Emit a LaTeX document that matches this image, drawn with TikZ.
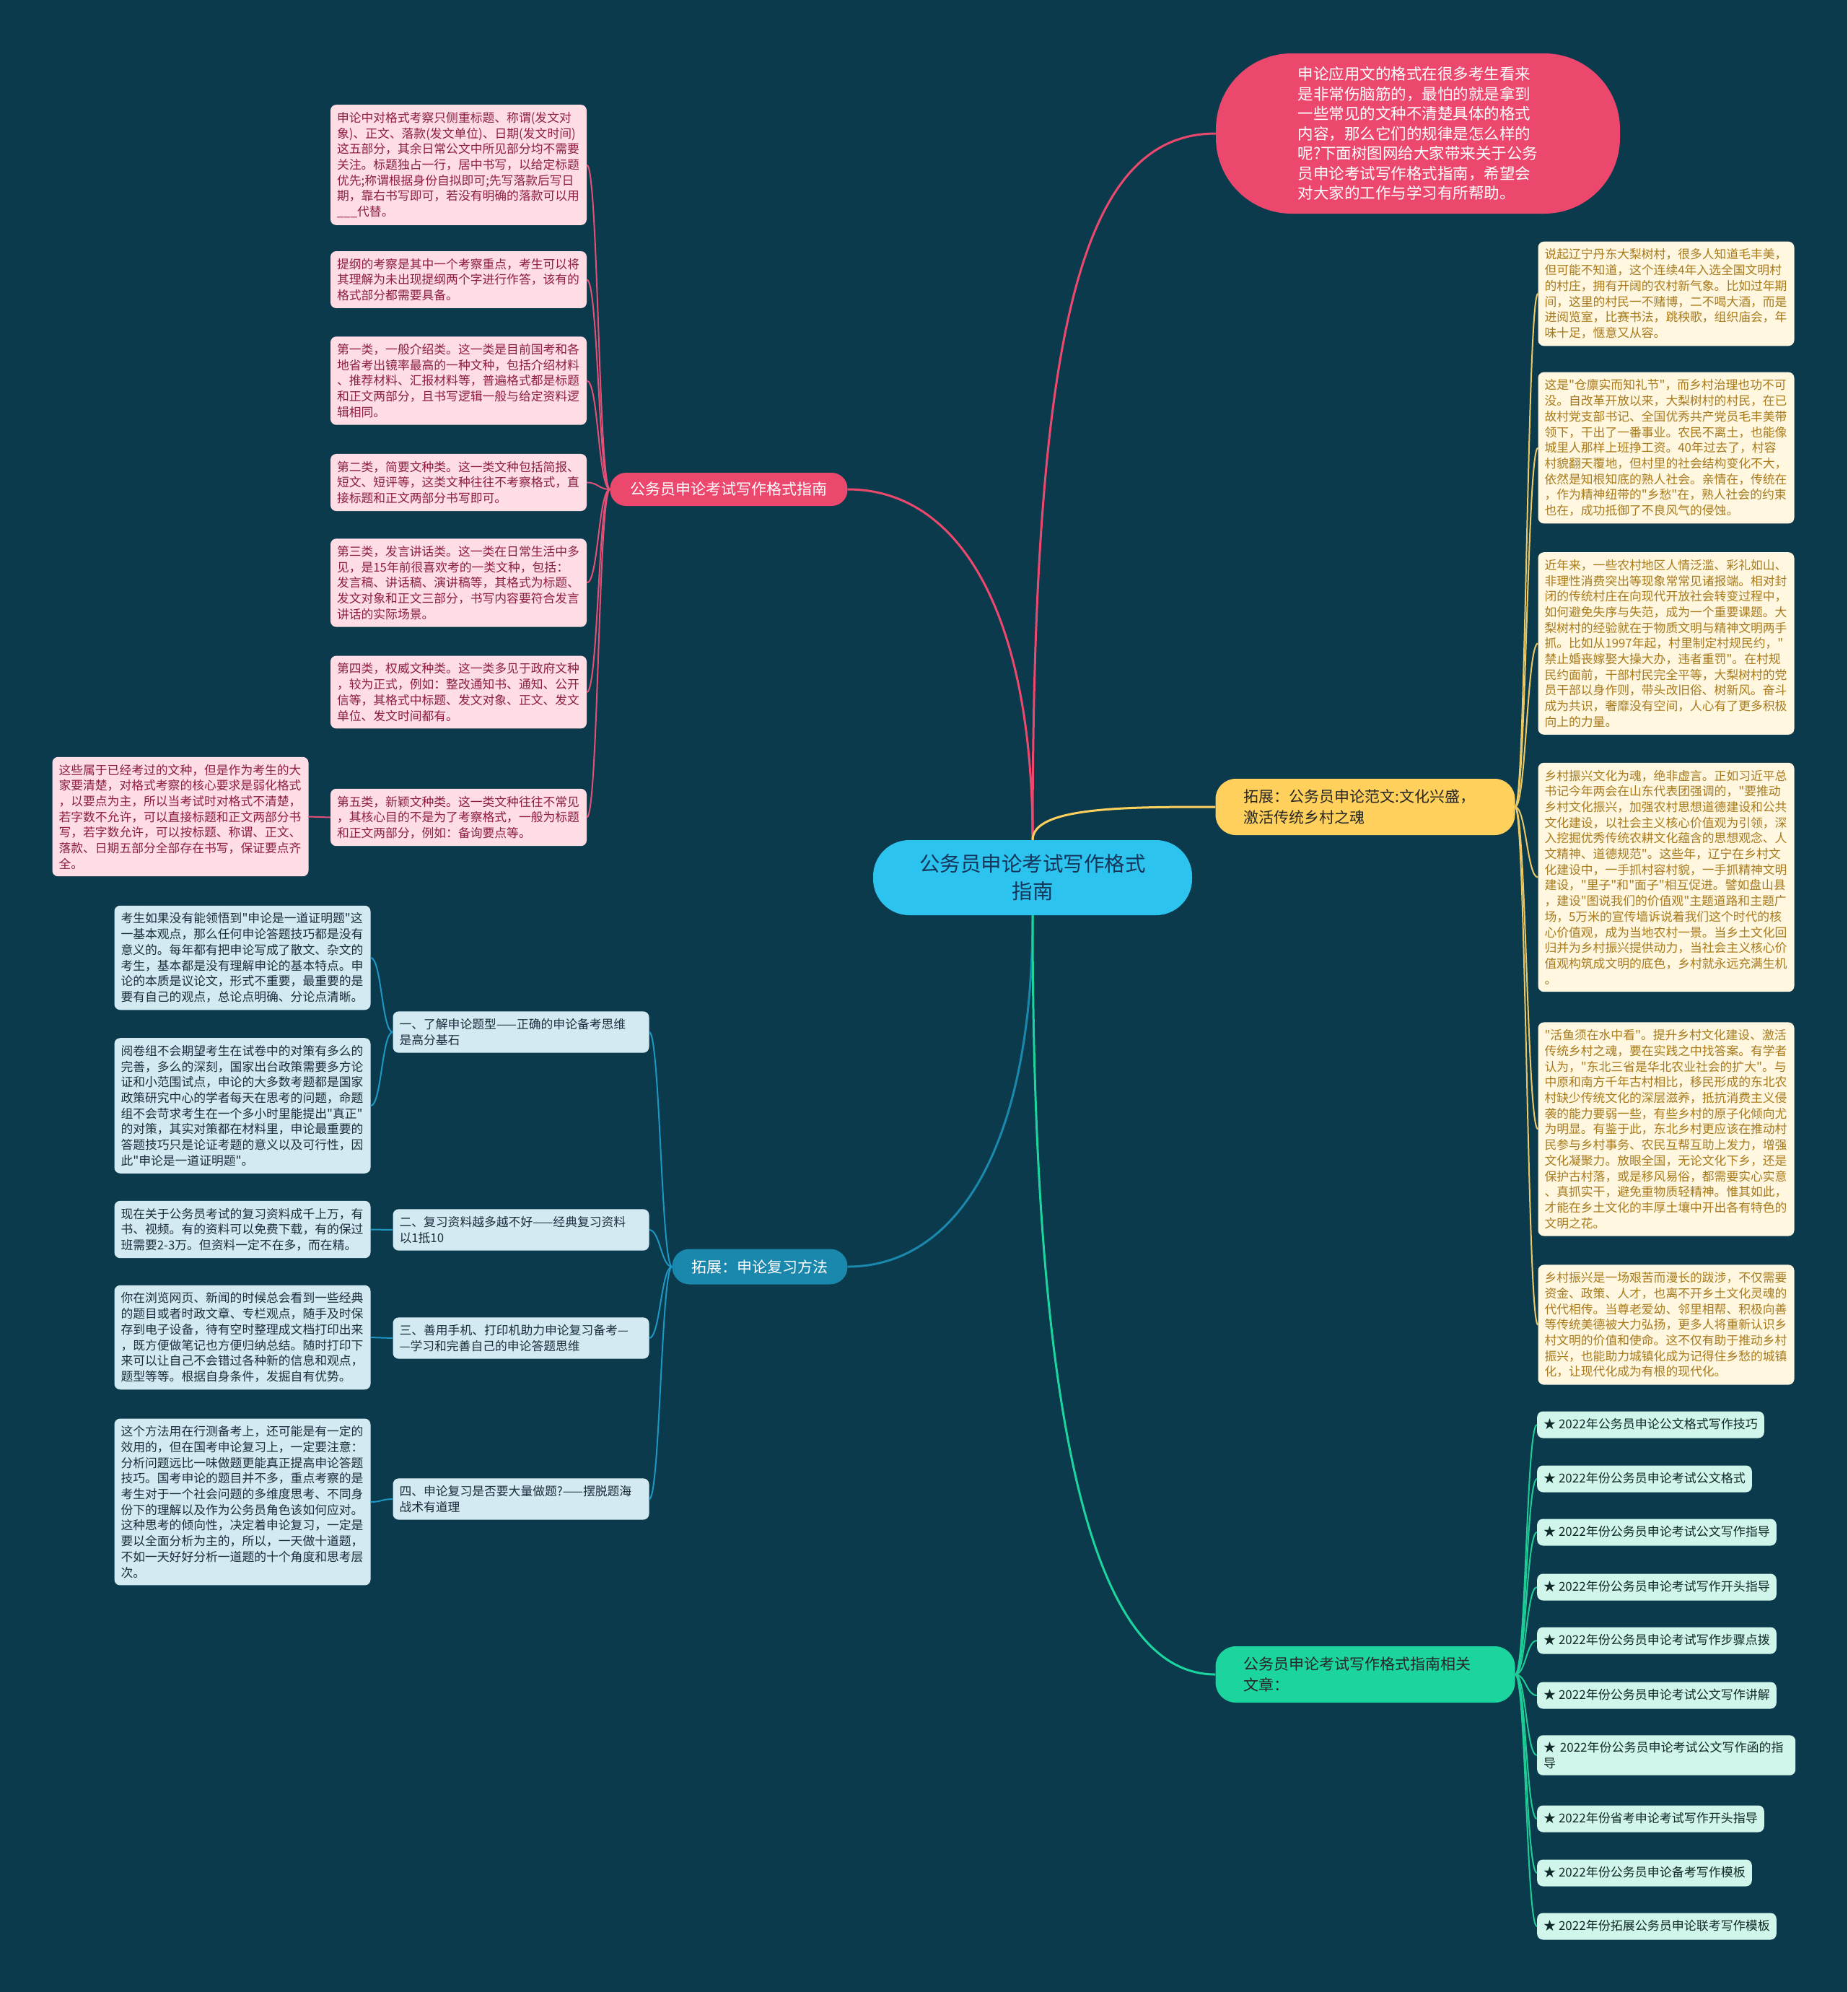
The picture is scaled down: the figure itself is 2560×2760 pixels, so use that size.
\documentclass[tikz,border=0pt]{standalone}
\usepackage{fontspec}
\newfontfamily\cjk{Noto Sans CJK SC}
\newcommand\fs[2]{\cjk\fontsize{#1}{#2}\selectfont}
\definecolor{bg}{RGB}{11,58,77}
\definecolor{cfill}{RGB}{45,195,239}
\definecolor{ctext}{RGB}{20,54,90}
\definecolor{redc}{RGB}{236,72,110}
\definecolor{yelc}{RGB}{255,209,92}
\definecolor{bluc}{RGB}{26,135,173}
\definecolor{grnc}{RGB}{27,212,158}
\definecolor{pinkfill}{RGB}{255,221,229}
\definecolor{pinktext}{RGB}{140,30,65}
\definecolor{yfill}{RGB}{255,247,224}
\definecolor{ytext}{RGB}{168,122,28}
\definecolor{bfill}{RGB}{212,234,242}
\definecolor{btext}{RGB}{25,45,60}
\definecolor{gfill}{RGB}{208,246,235}
\definecolor{gtext}{RGB}{15,40,40}
\definecolor{pinkln}{RGB}{226,80,120}
\definecolor{yelln}{RGB}{236,200,100}
\definecolor{bluln}{RGB}{30,150,195}
\definecolor{grnln}{RGB}{30,205,150}
\begin{document}
\begin{tikzpicture}[x=1pt,y=-1pt,
  leaf/.style={rounded corners=8pt, align=left, text width=337pt, inner xsep=9pt, inner ysep=10pt,
    font=\fs{16.8pt}{21.7pt}},
  pinkleaf/.style={leaf, fill=pinkfill, text=pinktext},
  yleaf/.style={leaf, fill=yfill, text=ytext},
  bleaf/.style={leaf, fill=bfill, text=btext},
  gleaf/.style={rounded corners=8pt, fill=gfill, text=gtext, inner xsep=9pt, inner ysep=9.5pt,
    text height=14pt, text depth=4pt, font=\fs{17pt}{21.7pt}, anchor=west},
  gleaftwo/.style={rounded corners=8pt, fill=gfill, text=gtext, inner xsep=9pt, inner ysep=9pt,
    text width=340pt, align=left, font=\fs{17pt}{21.7pt}, anchor=west},
  bigbranch/.style={rounded corners=28pt, align=left, text width=337pt, inner xsep=39pt,
    minimum height=78pt, font=\fs{21pt}{29pt}},
  pinkc/.style={draw=pinkln, line width=2pt},
  yelc/.style={draw=yelln, line width=2pt},
  bluc/.style={draw=bluln, line width=2pt},
  grnc/.style={draw=grnln, line width=2pt},
  mainln/.style={line width=3pt}
]
\fill[bg] (0,0) rectangle (2560,2760);
\useasboundingbox (0,0) rectangle (2560,2760);

% center
\node[fill=cfill, text=ctext, rounded corners=50pt, minimum width=442pt, minimum height=104pt,
  align=center, font=\fs{28.5pt}{38pt}] (c) at (1431,1216)
  {公务员申论考试写作格式\\指南};

% red bubble
\node[fill=redc, text=white, rounded corners=105pt, minimum width=560pt, minimum height=222pt,
  align=left, inner sep=10pt, font=\fs{21.5pt}{27.5pt}] (bub) at (1965,185)
  {申论应用文的格式在很多考生看来\\是非常伤脑筋的，最怕的就是拿到\\一些常见的文种不清楚具体的格式\\内容，那么它们的规律是怎么样的\\呢?下面树图网给大家带来关于公务\\员申论考试写作格式指南，希望会\\对大家的工作与学习有所帮助。};

% red branch
\node[fill=redc, text=white, rounded corners=22pt, minimum width=329pt, minimum height=46pt,
  inner sep=4pt, font=\fs{21pt}{26pt}] (rb) at (1010,678) {公务员申论考试写作格式指南};

% pink leaves
\node[pinkleaf] (p1) at (635.5,228.5) {申论中对格式考察只侧重标题、称谓(发文对\\象)、正文、落款(发文单位)、日期(发文时间)\\这五部分，其余日常公文中所见部分均不需要\\关注。标题独占一行，居中书写，以给定标题\\优先;称谓根据身份自拟即可;先写落款后写日\\期，靠右书写即可，若没有明确的落款可以用\\\_\_\_代替。};
\node[pinkleaf] (p2) at (635.5,387.5) {提纲的考察是其中一个考察重点，考生可以将\\其理解为未出现提纲两个字进行作答，该有的\\格式部分都需要具备。};
\node[pinkleaf] (p3) at (635.5,527.5) {第一类，一般介绍类。这一类是目前国考和各\\地省考出镜率最高的一种文种，包括介绍材料\\、推荐材料、汇报材料等，普遍格式都是标题\\和正文两部分，且书写逻辑一般与给定资料逻\\辑相同。};
\node[pinkleaf] (p4) at (635.5,668.5) {第二类，简要文种类。这一类文种包括简报、\\短文、短评等，这类文种往往不考察格式，直\\接标题和正文两部分书写即可。};
\node[pinkleaf] (p5) at (635.5,807.5) {第三类，发言讲话类。这一类在日常生活中多\\见，是15年前很喜欢考的一类文种，包括：\\发言稿、讲话稿、演讲稿等，其格式为标题、\\发文对象和正文三部分，书写内容要符合发言\\讲话的实际场景。};
\node[pinkleaf] (p6) at (635.5,959) {第四类，权威文种类。这一类多见于政府文种\\，较为正式，例如：整改通知书、通知、公开\\信等，其格式中标题、发文对象、正文、发文\\单位、发文时间都有。};
\node[pinkleaf] (p7) at (635.5,1132.5) {第五类，新颖文种类。这一类文种往往不常见\\，其核心目的不是为了考察格式，一般为标题\\和正文两部分，例如：备询要点等。};
\node[pinkleaf] (p8) at (250,1131.5) {这些属于已经考过的文种，但是作为考生的大\\家要清楚，对格式考察的核心要求是弱化格式\\，以要点为主，所以当考试时对格式不清楚，\\若字数不允许，可以直接标题和正文两部分书\\写，若字数允许，可以按标题、称谓、正文、\\落款、日期五部分全部存在书写，保证要点齐\\全。};

% yellow branch
\node[bigbranch, fill=yelc, text=black!85] (yb) at (1892,1118) {拓展：公务员申论范文:文化兴盛，\\激活传统乡村之魂};

% yellow leaves
\node[yleaf] (y1) at (2309,407) {说起辽宁丹东大梨树村，很多人知道毛丰美，\\但可能不知道，这个连续4年入选全国文明村\\的村庄，拥有开阔的农村新气象。比如过年期\\间，这里的村民一不赌博，二不喝大酒，而是\\进阅览室，比赛书法，跳秧歌，组织庙会，年\\味十足，惬意又从容。};
\node[yleaf] (y2) at (2309,620.5) {这是"仓廪实而知礼节"，而乡村治理也功不可\\没。自改革开放以来，大梨树村的村民，在已\\故村党支部书记、全国优秀共产党员毛丰美带\\领下，干出了一番事业。农民不离土，也能像\\城里人那样上班挣工资。40年过去了，村容\\村貌翻天覆地，但村里的社会结构变化不大，\\依然是知根知底的熟人社会。亲情在，传统在\\，作为精神纽带的"乡愁"在，熟人社会的约束\\也在，成功抵御了不良风气的侵蚀。};
\node[yleaf] (y3) at (2309,891.5) {近年来，一些农村地区人情泛滥、彩礼如山、\\非理性消费突出等现象常常见诸报端。相对封\\闭的传统村庄在向现代开放社会转变过程中，\\如何避免失序与失范，成为一个重要课题。大\\梨树村的经验就在于物质文明与精神文明两手\\抓。比如从1997年起，村里制定村规民约，"\\禁止婚丧嫁娶大操大办，违者重罚"。在村规\\民约面前，干部村民完全平等，大梨树村的党\\员干部以身作则，带头改旧俗、树新风。奋斗\\成为共识，奢靡没有空间，人心有了更多积极\\向上的力量。};
\node[yleaf] (y4) at (2309,1215.5) {乡村振兴文化为魂，绝非虚言。正如习近平总\\书记今年两会在山东代表团强调的，"要推动\\乡村文化振兴，加强农村思想道德建设和公共\\文化建设，以社会主义核心价值观为引领，深\\入挖掘优秀传统农耕文化蕴含的思想观念、人\\文精神、道德规范"。这些年，辽宁在乡村文\\化建设中，一手抓村容村貌，一手抓精神文明\\建设，"里子"和"面子"相互促进。譬如盘山县\\，建设"图说我们的价值观"主题道路和主题广\\场，5万米的宣传墙诉说着我们这个时代的核\\心价值观，成为当地农村一景。当乡土文化回\\归并为乡村振兴提供动力，当社会主义核心价\\值观构筑成文明的底色，乡村就永远充满生机\\。};
\node[yleaf] (y5) at (2309,1564.5) {"活鱼须在水中看"。提升乡村文化建设、激活\\传统乡村之魂，要在实践之中找答案。有学者\\认为，"东北三省是华北农业社会的扩大"。与\\中原和南方千年古村相比，移民形成的东北农\\村缺少传统文化的深层滋养，抵抗消费主义侵\\袭的能力要弱一些，有些乡村的原子化倾向尤\\为明显。有鉴于此，东北乡村更应该在推动村\\民参与乡村事务、农民互帮互助上发力，增强\\文化凝聚力。放眼全国，无论文化下乡，还是\\保护古村落，或是移风易俗，都需要实心实意\\、真抓实干，避免重物质轻精神。惟其如此，\\才能在乡土文化的丰厚土壤中开出各有特色的\\文明之花。};
\node[yleaf] (y6) at (2309,1835.5) {乡村振兴是一场艰苦而漫长的跋涉，不仅需要\\资金、政策、人才，也离不开乡土文化灵魂的\\代代相传。当尊老爱幼、邻里相帮、积极向善\\等传统美德被大力弘扬，更多人将重新认识乡\\村文明的价值和使命。这不仅有助于推动乡村\\振兴，也能助力城镇化成为记得住乡愁的城镇\\化，让现代化成为有根的现代化。};

% blue branch
\node[fill=bluc, text=white, rounded corners=24pt, minimum width=243pt, minimum height=49pt,
  inner sep=4pt, font=\fs{21pt}{26pt}] (bb) at (1053,1755) {拓展：申论复习方法};

% blue middle boxes
\node[bleaf] (m1) at (722,1430) {一、了解申论题型——正确的申论备考思维\\是高分基石};
\node[bleaf] (m2) at (722,1704) {二、复习资料越多越不好——经典复习资料\\以1抵10};
\node[bleaf] (m3) at (722,1854) {三、善用手机、打印机助力申论复习备考—\\—学习和完善自己的申论答题思维};
\node[bleaf] (m4) at (722,2077) {四、申论复习是否要大量做题?——摆脱题海\\战术有道理};

% blue leaves
\node[bleaf] (b1) at (336,1327) {考生如果没有能领悟到"申论是一道证明题"这\\一基本观点，那么任何申论答题技巧都是没有\\意义的。每年都有把申论写成了散文、杂文的\\考生，基本都是没有理解申论的基本特点。申\\论的本质是议论文，形式不重要，最重要的是\\要有自己的观点，总论点明确、分论点清晰。};
\node[bleaf] (b2) at (336,1532) {阅卷组不会期望考生在试卷中的对策有多么的\\完善，多么的深刻，国家出台政策需要多方论\\证和小范围试点，申论的大多数考题都是国家\\政策研究中心的学者每天在思考的问题，命题\\组不会苛求考生在一个多小时里能提出"真正"\\的对策，其实对策都在材料里，申论最重要的\\答题技巧只是论证考题的意义以及可行性，因\\此"申论是一道证明题"。};
\node[bleaf] (b3) at (336,1703.5) {现在关于公务员考试的复习资料成千上万，有\\书、视频。有的资料可以免费下载，有的保过\\班需要2-3万。但资料一定不在多，而在精。};
\node[bleaf] (b4) at (336,1853) {你在浏览网页、新闻的时候总会看到一些经典\\的题目或者时政文章、专栏观点，随手及时保\\存到电子设备，待有空时整理成文档打印出来\\，既方便做笔记也方便归纳总结。随时打印下\\来可以让自己不会错过各种新的信息和观点，\\题型等等。根据自身条件，发掘自有优势。};
\node[bleaf] (b5) at (336,2081) {这个方法用在行测备考上，还可能是有一定的\\效用的，但在国考申论复习上，一定要注意：\\分析问题远比一味做题更能真正提高申论答题\\技巧。国考申论的题目并不多，重点考察的是\\考生对于一个社会问题的多维度思考、不同身\\份下的理解以及作为公务员角色该如何应对。\\这种思考的倾向性，决定着申论复习，一定是\\要以全面分析为主的，所以，一天做十道题，\\不如一天好好分析一道题的十个角度和思考层\\次。};

% green branch
\node[bigbranch, fill=grnc, text=black!85] (gb) at (1892,2320) {公务员申论考试写作格式指南相关\\文章：};

% green leaves
\node[gleaf] (g1) at (2130,1974) {★ 2022年公务员申论公文格式写作技巧};
\node[gleaf] (g2) at (2130,2049) {★ 2022年份公务员申论考试公文格式};
\node[gleaf] (g3) at (2130,2123) {★ 2022年份公务员申论考试公文写作指导};
\node[gleaf] (g4) at (2130,2199) {★ 2022年份公务员申论考试写作开头指导};
\node[gleaf] (g5) at (2130,2273) {★ 2022年份公务员申论考试写作步骤点拨};
\node[gleaf] (g6) at (2130,2349) {★ 2022年份公务员申论考试公文写作讲解};
\node[gleaftwo] (g7) at (2130,2432) {★ 2022年份公务员申论考试公文写作函的指\\导};
\node[gleaf] (g8) at (2130,2520) {★ 2022年份省考申论考试写作开头指导};
\node[gleaf] (g9) at (2130,2595) {★ 2022年份公务员申论备考写作模板};
\node[gleaf] (g10) at (2130,2669) {★ 2022年份拓展公务员申论联考写作模板};

% main connectors
\draw[draw=redc, mainln] (c.north) .. controls (1431,450) and (1500,185) .. (bub.west);
\draw[draw=redc, mainln] (c.north) .. controls (1431,850) and (1330,678) .. (rb.east);
\draw[draw=yelc, mainln] (c.north) .. controls (1431,1118) and (1560,1118) .. (yb.west);
\draw[draw=bluc, mainln] (c.south) .. controls (1431,1600) and (1320,1755) .. (bb.east);
\draw[draw=grnc, mainln] (c.south) .. controls (1431,2000) and (1520,2320) .. (gb.west);

% pink connectors
\foreach \n in {p1,p2,p3,p4,p5,p6,p7}
  \draw[pinkc] (rb.west) .. controls +(-16,0) and +(16,0) .. (\n.east);
\draw[pinkc] (p7.west) -- (p8.east);

% yellow connectors
\foreach \n in {y1,y2,y3,y4,y5,y6}
  \draw[yelc] (yb.east) .. controls +(15,0) and +(-15,0) .. (\n.west);

% blue connectors
\foreach \n in {m1,m2,m3,m4}
  \draw[bluc] (bb.west) .. controls +(-15,0) and +(15,0) .. (\n.east);
\draw[bluc] (m1.west) .. controls +(-15,0) and +(15,0) .. (b1.east);
\draw[bluc] (m1.west) .. controls +(-15,0) and +(15,0) .. (b2.east);
\draw[bluc] (m2.west) .. controls +(-15,0) and +(15,0) .. (b3.east);
\draw[bluc] (m3.west) .. controls +(-15,0) and +(15,0) .. (b4.east);
\draw[bluc] (m4.west) .. controls +(-15,0) and +(15,0) .. (b5.east);

% green connectors
\foreach \n in {g1,g2,g3,g4,g5,g6,g7,g8,g9,g10}
  \draw[grnc] (gb.east) .. controls +(15,0) and +(-15,0) .. (\n.west);
\end{tikzpicture}
\end{document}
